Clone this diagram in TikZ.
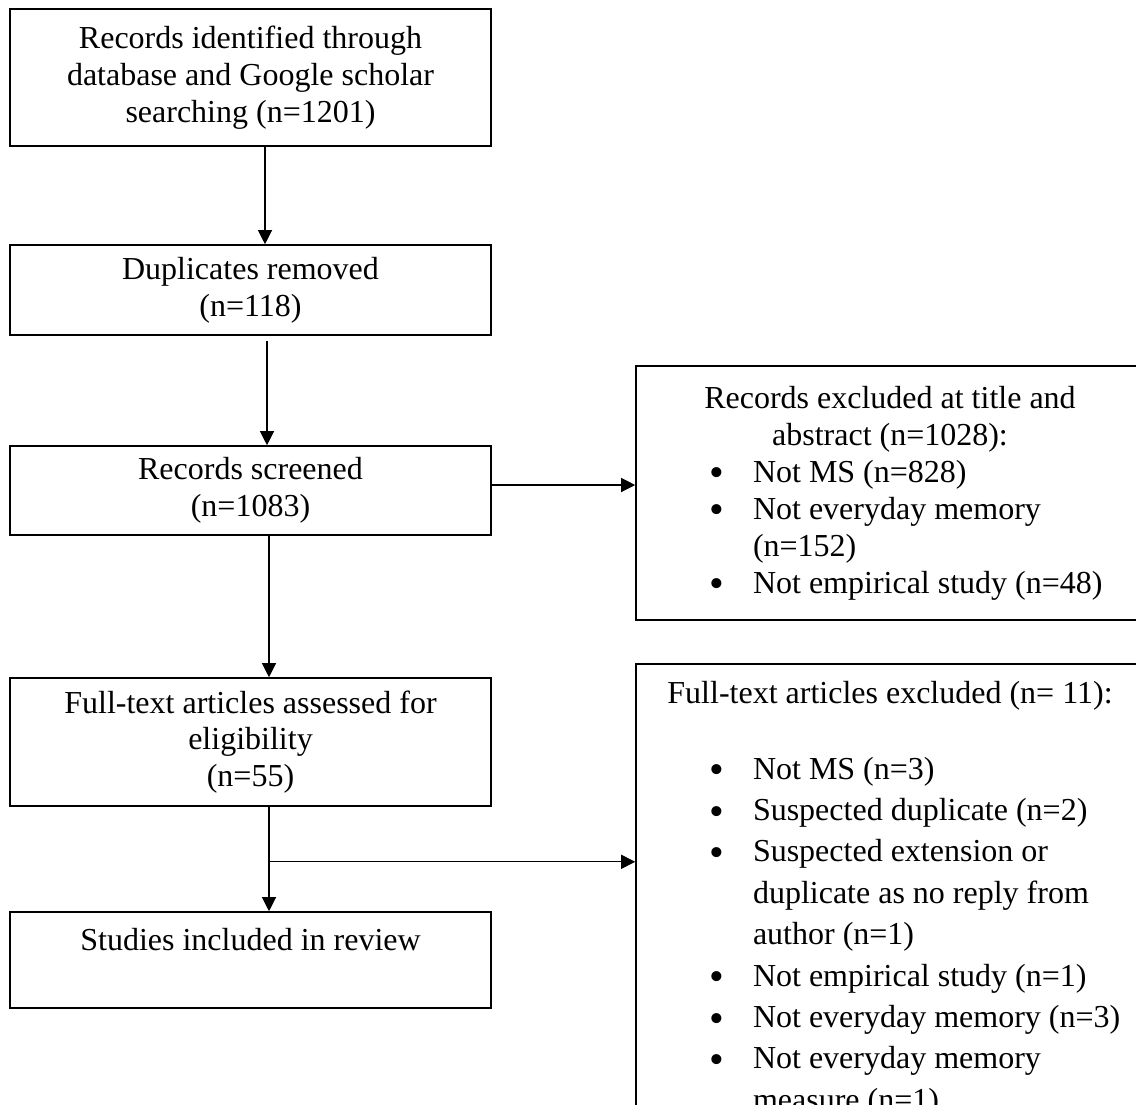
\documentclass[tikz,border=0pt]{standalone}
\usepackage{fontspec}
\setmainfont{Liberation Serif}
\usetikzlibrary{arrows.meta}

\newcommand{\hdr}[1]{\makebox[244pt]{#1}}
\newcommand{\bdot}{\raisebox{-2.3pt}{\fontsize{21}{21}\selectfont\textbullet}}
\newcommand{\bitem}[1]{\hspace*{31.5pt}\makebox[22pt][l]{\bdot}#1}
\newcommand{\bcont}[1]{\hspace*{53.5pt}#1}

\tikzset{
  box/.style={draw, line width=0.8pt, minimum width=240.5pt, inner sep=0pt,
    align=center, font=\fontsize{16}{18.4}\selectfont},
  list/.style={draw, line width=0.8pt, text width=244pt, inner xsep=5pt,
    font=\fontsize{16}{18.5}\selectfont,
    execute at begin node={\spaceskip=0pt\xspaceskip=0pt\relax}},
  arr/.style={-{Triangle[length=7pt,width=7pt]}, line width=0.6pt}
}

\begin{document}
\begin{tikzpicture}[x=0.5pt, y=-0.5pt]
    \useasboundingbox (0,0) rectangle (1136,1104);
    \clip (0,0) rectangle (1136,1104);
    % left column
    \node[box, line width=1.3pt, minimum height=68.5pt] (b1) at (250.5,77.5)
        {Records identified through\\ database and Google scholar\\ searching (n=1201)};
    \node[box, minimum height=45pt] (b2) at (250.5,290) {Duplicates removed\\ (n=118)};
    \node[box, minimum height=44.5pt] (b3) at (250.5,490.5) {Records screened\\ (n=1083)};
    \node[box, minimum height=64pt] (b5) at (250.5,742)
        {Full-text articles assessed for\\ eligibility\\ (n=55)};
    \node[box, minimum height=48pt, text depth=21pt] (b6) at (250.5,960)
        {Studies included in review};
    % right column
    \node[list, minimum height=127pt] (b4) at (890,493) {%
        \hdr{Records excluded at title and}\\
        \hdr{abstract (n=1028):}\\
        \bitem{Not MS (n=828)}\\
        \bitem{Not everyday memory}\\
        \bcont{(n=152)}\\
        \bitem{Not empirical study (n=48)}};
    \node[list, anchor=north, inner ysep=8.5pt, font=\fontsize{16}{20.7}\selectfont]
        (b7) at (890,663) {%
        \hdr{Full-text articles excluded (n= 11):}\\[17.3pt]
        \bitem{Not MS (n=3)}\\
        \bitem{Suspected duplicate (n=2)}\\
        \bitem{Suspected extension or}\\
        \bcont{duplicate as no reply from}\\
        \bcont{author (n=1)}\\
        \bitem{Not empirical study (n=1)}\\
        \bitem{Not everyday memory (n=3)}\\
        \bitem{Not everyday memory}\\
        \bcont{measure (n=1)}};
    % arrows
    \draw[arr] ([xshift=7.25pt]b1.south) -- ([xshift=7.25pt]b2.north);
    \draw[arr] ([xshift=8.25pt,yshift=-2.5pt]b2.south) -- ([xshift=8.25pt]b3.north);
    \draw[arr] ([yshift=2.75pt]b3.east) -- ([yshift=2.75pt]b3.east -| b4.west);
    \draw[arr] ([xshift=9.25pt]b3.south) -- ([xshift=9.25pt]b5.north);
    \draw[arr] ([xshift=9.25pt]b5.south) -- ([xshift=9.25pt]b6.north);
    \coordinate (fork) at ([xshift=9.25pt,yshift=-27.5pt]b5.south);
    \draw[arr] (fork) -- (fork -| b7.west);
\end{tikzpicture}
\end{document}
